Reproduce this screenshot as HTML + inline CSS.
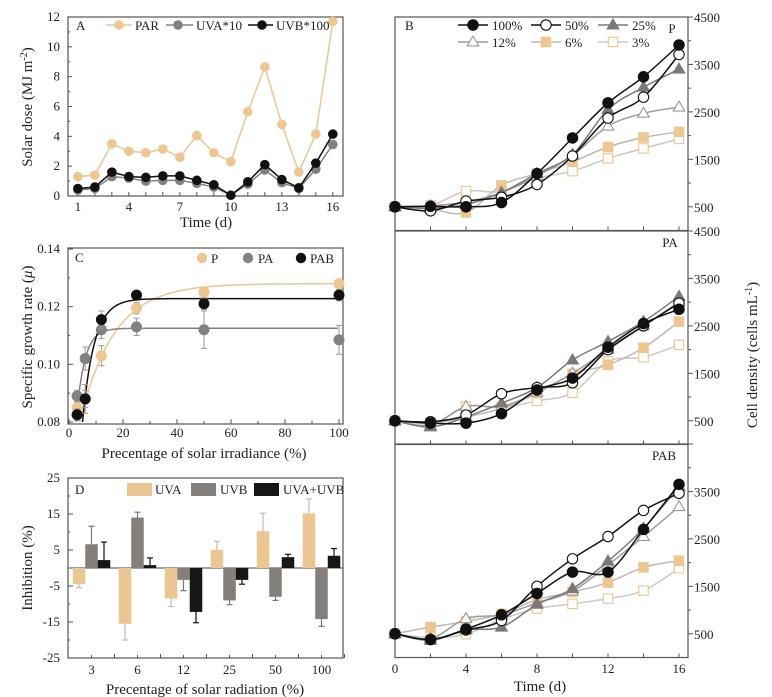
<!DOCTYPE html>
<html><head><meta charset="utf-8"><style>
body{margin:0;background:#fff}
svg{display:block;font-family:"Liberation Serif",serif}
</style></head><body>
<svg id="fig" width="772" height="697" viewBox="0 0 772 697"></svg>
<script>
// ---------- Panel A data ----------
const daysA=[1,2,3,4,5,6,7,8,9,10,11,12,13,14,15,16];
const parA=[1.3,1.4,3.5,3.0,2.9,3.15,2.6,4.05,2.9,2.3,5.65,8.65,4.8,1.6,4.15,11.7];
const uvaA=[0.4,0.5,1.3,1.2,1.0,1.05,1.05,0.85,0.6,0.05,0.8,1.75,0.9,0.5,1.8,3.45];
const uvbA=[0.5,0.6,1.6,1.3,1.25,1.35,1.35,1.05,0.75,0.05,0.95,2.1,1.1,0.55,2.2,4.15];
const ticksAx=[1,4,7,10,13,16];
const ticksAy=[0,2,4,6,8,10,12];
// ---------- Panel B data ----------
const daysB=[0,2,4,6,8,10,12,14,16];
const seriesNames=['100%','50%','25%','12%','6%','3%'];
const bP100=[500,510,500,590,1200,1950,2690,3240,3910];
const bP50=[500,415,620,700,970,1570,2370,2810,3710];
const bP25=[500,470,550,800,1200,1600,2550,3020,3400];
const bP12=[500,520,600,800,1150,1580,2200,2470,2600];
const bP6=[500,450,380,950,1200,1450,1760,1960,2080];
const bP3=[500,530,830,820,1100,1250,1520,1730,1930];
const bPA100=[500,450,450,650,1150,1400,2050,2550,2850];
const bPA50=[500,480,620,1070,1200,1300,2000,2500,2980];
const bPA25=[500,370,580,870,1200,1780,2170,2590,3120];
const bPA12=[500,400,800,800,1100,1500,2000,2500,3000];
const bPA6=[500,450,580,760,1080,1490,1680,2040,2590];
const bPA3=[500,420,800,780,920,1090,1750,1840,2100];
const bPAB100=[500,380,600,900,1350,1800,1800,2700,3650];
const bPAB50=[500,380,580,780,1500,2080,2550,3100,3460];
const bPAB25=[500,360,580,640,1120,1450,2030,2720,3600];
const bPAB12=[500,400,820,900,1150,1400,1950,2550,3180];
const bPAB6=[500,640,760,920,1220,1380,1580,1900,2040];
const bPAB3=[500,420,490,800,1030,1130,1240,1410,1880];
const ticksBy=[500,1500,2500,3500];
// ---------- Panel C data ----------
const pctC=[3,6,12,25,50,100];
const cP=[0.085,0.088,0.103,0.1195,0.125,0.128];
const cPerr=[0.002,0.003,0.0035,0.002,0.0015,0.001];
const cPA=[0.089,0.102,0.112,0.113,0.112,0.1085];
const cPAerr=[0.002,0.004,0.003,0.003,0.0065,0.005];
const cPAB=[0.0825,0.088,0.1155,0.124,0.121,0.124];
const cPABerr=[0.002,0.005,0.003,0.0015,0.002,0.002];
const fitPlateau=[0.128,0.1125,0.1228];
const fitRate=[0.08,0.33,0.23];
const fitStart=[4,2.6,5];
const ticksCx=[0,20,40,60,80,100];
const ticksCy=[0.08,0.10,0.12,0.14];
// ---------- Panel D data ----------
const catD=['3','6','12','25','50','100'];
const dUVA=[-4.5,-15.5,-8.5,5,10.2,15.2];
const dUVAerr=[1,4.5,2.2,2.4,5,4];
const dUVB=[6.6,14,-3.3,-9,-8,-14.2];
const dUVBerr=[5,1.5,3,1.2,1,2];
const dBoth=[2.2,0.8,-12.2,-3.3,3,3.4];
const dBotherr=[5,2,3,1.2,0.8,2];
const ticksDy=[-25,-15,-5,5,15,25];

const NS='http://www.w3.org/2000/svg';
const svg=document.getElementById('fig');
function el(tag,attrs,parent){const e=document.createElementNS(NS,tag);for(const k in attrs)e.setAttribute(k,attrs[k]);(parent||svg).appendChild(e);return e;}
function txt(s,x,y,size,anchor,parent){const t=el('text',{x:x,y:y,'font-size':size,'text-anchor':anchor||'middle',fill:'#222'},parent);t.textContent=s;return t;}
function lin(d0,d1,r0,r1){return v=>r0+(v-d0)*(r1-r0)/(d1-d0);}
const TAN='#edc690',GRY='#858080',BLK='#111',AX='#555';

// ========== Panel A ==========
const gA=el('g',{});

const xA=lin(0.42,16.6,68,343), yA=lin(0,12,196,17);
el('rect',{x:68,y:17,width:275,height:179,fill:'none',stroke:AX,'stroke-width':1.2},gA);
for(let d=1;d<=16;d++){el('line',{x1:xA(d),x2:xA(d),y1:196,y2:192,stroke:AX},gA);}
ticksAx.forEach(t=>{const l=txt(t,xA(t),211,13,'middle',gA);});
ticksAy.forEach(t=>{el('line',{x1:68,x2:72,y1:yA(t),y2:yA(t),stroke:AX},gA);const l=txt(t,60,yA(t)+4,13,'end',gA);});
for(let t=1;t<12;t+=2)el('line',{x1:68,x2:70,y1:yA(t),y2:yA(t),stroke:AX},gA);
let tA=txt('Time (d)',206,227,15,'middle',gA);
let yAt=el('text',{x:0,y:0,'font-size':15,'text-anchor':'middle',fill:'#222',transform:'translate(32,107) rotate(-90)'},gA);
yAt.innerHTML='Solar dose (MJ m<tspan dy="-5" font-size="10">-2</tspan><tspan dy="5">)</tspan>';

txt('A',76,30,13,'start',gA);
function lineSeries(g,xs,ys,xf,yf,color,name){
  const p=el('polyline',{points:xs.map((x,i)=>xf(x)+','+yf(ys[i])).join(' '),fill:'none',stroke:color,'stroke-width':1.5},g);
  
  xs.forEach((x,i)=>{const c=el('circle',{cx:xf(x),cy:yf(ys[i]),r:4.8,fill:color},g);});
}
lineSeries(gA,daysA,parA,xA,yA,TAN,'par');
lineSeries(gA,daysA,uvaA,xA,yA,GRY,'uva10');
lineSeries(gA,daysA,uvbA,xA,yA,BLK,'uvb100');
[['PAR',106,132,119,135,TAN],['UVA*10',166,193,178,196,GRY],['UVB*100',248,273,262,276,BLK]].forEach(l=>{
  const g=el('g',{},gA);
  el('line',{x1:l[1],x2:l[2],y1:25,y2:25,stroke:l[5],'stroke-width':1.5},g);
  el('circle',{cx:l[3],cy:25,r:4.8,fill:l[5]},g);
  txt(l[0],l[4],30,13,'start',g);
});

// ========== Panel B ==========
const xB=lin(0,16,395,679);
const panelsB=[{top:17,label:'P',lx:672,data:[bP100,bP50,bP25,bP12,bP6,bP3],name:'panel-b-p'},
 {top:231,label:'PA',lx:670,data:[bPA100,bPA50,bPA25,bPA12,bPA6,bPA3],name:'panel-b-pa'},
 {top:444,label:'PAB',lx:664,data:[bPAB100,bPAB50,bPAB25,bPAB12,bPAB6,bPAB3],name:'panel-b-pab'}];
const styles=[{lc:BLK,mk:'circle',fill:BLK,st:BLK},{lc:BLK,mk:'circle',fill:'#fff',st:BLK},{lc:'#7d7878',mk:'tri',fill:'#7d7878',st:'#7d7878'},
 {lc:'#a09b98',mk:'tri',fill:'#fff',st:'#999'},{lc:'#bdb8b4',mk:'sq',fill:TAN,st:TAN},{lc:'#cdc8c4',mk:'sq',fill:'#fff',st:TAN}];
function smooth(pts){let d='M'+pts[0][0]+','+pts[0][1];for(let i=0;i<pts.length-1;i++){const p0=pts[Math.max(0,i-1)],p1=pts[i],p2=pts[i+1],p3=pts[Math.min(pts.length-1,i+2)];
 d+=' C'+(p1[0]+(p2[0]-p0[0])/6)+','+(p1[1]+(p2[1]-p0[1])/6)+' '+(p2[0]-(p3[0]-p1[0])/6)+','+(p2[1]-(p3[1]-p1[1])/6)+' '+p2[0]+','+p2[1];}return d;}
function marker(g,type,x,y,fill,stroke,s){
  s=s||5.2;let m;
  if(type==='circle')m=el('circle',{cx:x,cy:y,r:s,fill:fill,stroke:stroke,'stroke-width':1.1},g);
  else if(type==='tri')m=el('polygon',{points:`${x},${y-s-0.8} ${x-s-0.6},${y+s*0.75} ${x+s+0.6},${y+s*0.75}`,fill:fill,stroke:stroke,'stroke-width':1.1},g);
  else m=el('rect',{x:x-s+0.5,y:y-s+0.5,width:2*s-1,height:2*s-1,fill:fill,stroke:stroke,'stroke-width':1.1},g);
  return m;
}
panelsB.forEach((P,pi)=>{
  const g=el('g',{});
  const bot=P.top+213.5;const yB=lin(0,4500,bot,P.top);
  el('rect',{x:395,y:P.top,width:293,height:213.5,fill:'none',stroke:AX,'stroke-width':1.2},g);
  for(let d=2;d<=16;d+=2)el('line',{x1:xB(d),x2:xB(d),y1:bot,y2:bot-4,stroke:AX},g);
  for(let v=500;v<=4500;v+=500)el('line',{x1:688,x2:v%1000===500?693:691,y1:yB(v),y2:yB(v),stroke:AX},g);
  const labs=pi<2?ticksBy.concat([4500]):ticksBy;
  labs.forEach(v=>{const l=txt(v,694,yB(v)+5,13,'start',g);});
  txt(P.label,P.lx,P.top+16,13,'middle',g);
  for(let s=5;s>=0;s--){
    const st=styles[s];const ys=P.data[s];
    const pts=daysB.map((d,i)=>[xB(d),yB(ys[i])]);
    const path=el('path',{d:smooth(pts),fill:'none',stroke:st.lc,'stroke-width':1.5},g);
    
    pts.forEach(p=>{const m=marker(g,st.mk,p[0],p[1],st.fill,st.st);});
  }
});
txt('B',405,30,13,'start');
[[0,473,25],[1,546,25],[2,613,25],[3,473,42],[4,546,42],[5,613,42]].forEach(l=>{
  const st=styles[l[0]];const g=el('g',{});
  el('line',{x1:l[1]-15,x2:l[1]+15,y1:l[2],y2:l[2],stroke:st.lc,'stroke-width':1.5},g);
  marker(g,st.mk,l[1],l[2],st.fill,st.st);
  txt(seriesNames[l[0]],l[1]+19,l[2]+5,13,'start',g);
});
[0,4,8,12,16].forEach(d=>{const l=txt(d,xB(d),673,13,'middle');});
let tB=txt('Time (d)',540,691,15,'middle');
let yBt=el('text',{x:0,y:0,'font-size':15,'text-anchor':'middle',fill:'#222',transform:'translate(757,355) rotate(-90)'});
yBt.innerHTML='Cell density (cells mL<tspan dy="-5" font-size="10">-1</tspan><tspan dy="5">)</tspan>';


// ========== Panel C ==========
const gC=el('g',{});
const xC=lin(0,100,69,339), yC=lin(0.08,0.14,422,249);
el('rect',{x:68,y:248,width:275,height:176,fill:'none',stroke:AX,'stroke-width':1.2},gC);
for(let v=0;v<=100;v+=10)el('line',{x1:xC(v),x2:xC(v),y1:424,y2:v%20?421:419,stroke:AX},gC);
ticksCx.forEach(t=>{const l=txt(t,xC(t),437,13,'middle',gC);});
ticksCy.forEach(t=>{el('line',{x1:68,x2:73,y1:yC(t),y2:yC(t),stroke:AX},gC);const l=txt(t.toFixed(2),60,yC(t)+4,13,'end',gC);});
[0.09,0.11,0.13].forEach(t=>el('line',{x1:68,x2:70,y1:yC(t),y2:yC(t),stroke:AX},gC));
let tC=txt('Precentage of solar irradiance (%)',204,458,15,'middle',gC);
let yCt=el('text',{x:0,y:0,'font-size':15,'text-anchor':'middle',fill:'#222',transform:'translate(32,337) rotate(-90)'},gC);
yCt.innerHTML='Specific growth rate (<tspan font-style="italic">μ</tspan>)';
txt('C',75,262,13,'start',gC);
const cSets=[[cP,cPerr,TAN,'p'],[cPA,cPAerr,GRY,'pa'],[cPAB,cPABerr,BLK,'pab']];
cSets.forEach((s,si)=>{
  let d='';for(let x=fitStart[si];x<=100;x+=0.5){const v=fitPlateau[si]-(fitPlateau[si]-0.08)*Math.exp(-fitRate[si]*(x-fitStart[si]));d+=(d?' L':'M')+xC(x)+','+yC(v);}
  const p=el('path',{d:d,fill:'none',stroke:s[2],'stroke-width':1.5},gC);
});
cSets.forEach(s=>{pctC.forEach((x,i)=>{
  const cx=xC(x),cy=yC(s[0][i]),e=s[1][i];
  el('line',{x1:cx,x2:cx,y1:yC(s[0][i]-e),y2:yC(s[0][i]+e),stroke:'#999'},gC);
  el('line',{x1:cx-3,x2:cx+3,y1:yC(s[0][i]+e),y2:yC(s[0][i]+e),stroke:'#999'},gC);
  el('line',{x1:cx-3,x2:cx+3,y1:yC(s[0][i]-e),y2:yC(s[0][i]-e),stroke:'#999'},gC);
  const c=el('circle',{cx:cx,cy:cy,r:5.5,fill:s[2]},gC);
});});
[['P',202,211,TAN],['PA',248,258,GRY],['PAB',301,310,BLK]].forEach(l=>{
  const g=el('g',{},gC);
  el('circle',{cx:l[1],cy:258,r:5.2,fill:l[3]},g);txt(l[0],l[2],263,13,'start',g);
});

// ========== Panel D ==========
const gD=el('g',{});
const yD=lin(-25,25,658,478);const cw=46,x0D=68.5;const bw=12.5;
el('rect',{x:68,y:478,width:275,height:180,fill:'none',stroke:AX,'stroke-width':1.2},gD);
el('line',{x1:68,x2:343,y1:yD(0),y2:yD(0),stroke:'#444','stroke-width':1},gD);
ticksDy.forEach(t=>{el('line',{x1:68,x2:73,y1:yD(t),y2:yD(t),stroke:AX},gD);const l=txt(t,60,yD(t)+4,13,'end',gD);});
[-20,-10,0,10,20].forEach(t=>el('line',{x1:68,x2:70,y1:yD(t),y2:yD(t),stroke:AX},gD));
const dSets=[[dUVA,dUVAerr,'#ecc691','#ccb9a5','uva'],[dUVB,dUVBerr,'#857f7c','#777','uvb'],[dBoth,dBotherr,'#161616','#111','uva-uvb']];
catD.forEach((c,i)=>{
  const cx=x0D+cw*(i+0.5);
  el('line',{x1:x0D+cw*(i+1),x2:x0D+cw*(i+1),y1:658,y2:654,stroke:AX},gD);
  el('line',{x1:cx,x2:cx,y1:658,y2:655,stroke:AX},gD);
  const l=txt(c,cx,674,13,'middle',gD);
  dSets.forEach((s,k)=>{
    const v=s[0][i],e=s[1][i];const bx=cx-bw*1.5+k*bw;
    const r=el('rect',{x:bx,y:Math.min(yD(v),yD(0)),width:bw,height:Math.abs(yD(v)-yD(0)),fill:s[2]},gD);
    
    const ex=bx+bw/2,tip=v>=0?v+e:v-e;
    el('line',{x1:ex,x2:ex,y1:yD(v),y2:yD(tip),stroke:s[3],'stroke-width':1.2},gD);
    el('line',{x1:ex-3,x2:ex+3,y1:yD(tip),y2:yD(tip),stroke:s[3],'stroke-width':1.2},gD);
  });
});
let tD=txt('Precentage of solar radiation (%)',205,694,15,'middle',gD);
let yDt=el('text',{x:0,y:0,'font-size':15,'text-anchor':'middle',fill:'#222',transform:'translate(32,568) rotate(-90)'},gD);
yDt.textContent='Inhibition (%)';
txt('D',75,494,13,'start',gD);
[['UVA',127,155,'#ecc691'],['UVB',191,220,'#857f7c'],['UVA+UVB',254,283,'#161616']].forEach(l=>{
  const g=el('g',{},gD);
  el('rect',{x:l[1],y:483,width:25,height:13,fill:l[3]},g);txt(l[0],l[2],494,13,'start',g);
});
</script>
</body></html>
